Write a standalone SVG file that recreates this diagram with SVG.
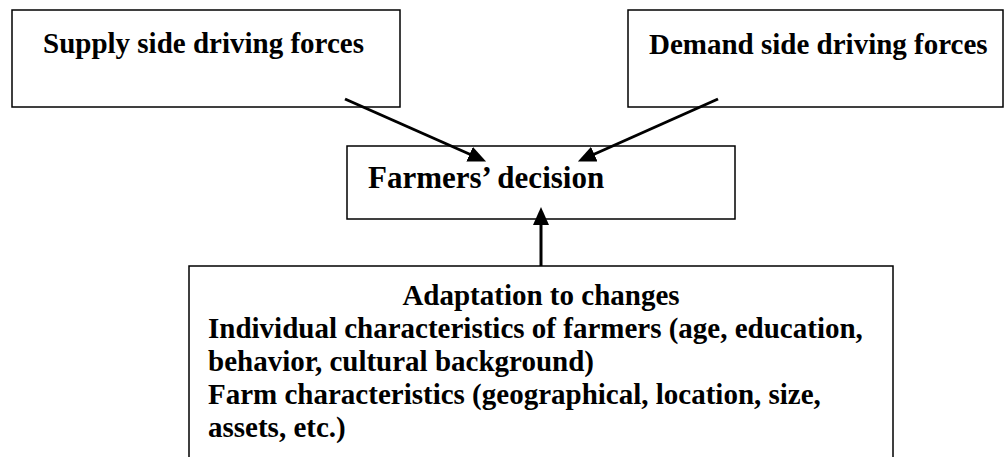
<svg xmlns="http://www.w3.org/2000/svg" width="1006" height="457" viewBox="0 0 1006 457">
  <style>
    .box { fill: #ffffff; stroke: #000000; stroke-width: 1.5; }
    .t { font-family: "Liberation Serif", "Times New Roman", serif; font-weight: bold; fill: #000000; font-size: 29px; }
    .conn { stroke: #000000; stroke-width: 3; fill: none; marker-end: url(#arrow); }
  </style>
  <defs>
    <marker id="arrow" markerUnits="userSpaceOnUse" markerWidth="18" markerHeight="16" refX="7" refY="8" orient="auto">
      <path d="M0,0 L18,8 L0,16 z" fill="#000000"/>
    </marker>
  </defs>
  <rect width="1006" height="457" fill="#ffffff"/>

  <g id="supply">
    <rect class="box" x="12" y="10" width="388" height="97"/>
    <text class="t" x="43" y="53">Supply side driving forces</text>
  </g>

  <g id="demand">
    <rect class="box" x="628" y="10" width="375" height="97"/>
    <text class="t" x="649" y="54">Demand side driving forces</text>
  </g>

  <g id="decision">
    <rect class="box" x="347" y="146" width="388" height="73"/>
    <text class="t" x="368" y="188" style="font-size:31px">Farmers’ decision</text>
  </g>

  <g id="adaptation">
    <rect class="box" x="189" y="266" width="704" height="200"/>
    <text class="t" x="541" y="305" text-anchor="middle">Adaptation to changes</text>
    <text class="t" x="208" y="338">Individual characteristics of farmers (age, education,</text>
    <text class="t" x="208" y="371">behavior, cultural background)</text>
    <text class="t" x="208" y="404">Farm characteristics (geographical, location, size,</text>
    <text class="t" x="208" y="437">assets, etc.)</text>
  </g>

  <g id="connectors">
    <line class="conn" x1="345" y1="99" x2="476" y2="157"/>
    <line class="conn" x1="718" y1="99" x2="587.9" y2="157"/>
    <line class="conn" x1="541" y1="266" x2="541" y2="218"/>
  </g>
</svg>
